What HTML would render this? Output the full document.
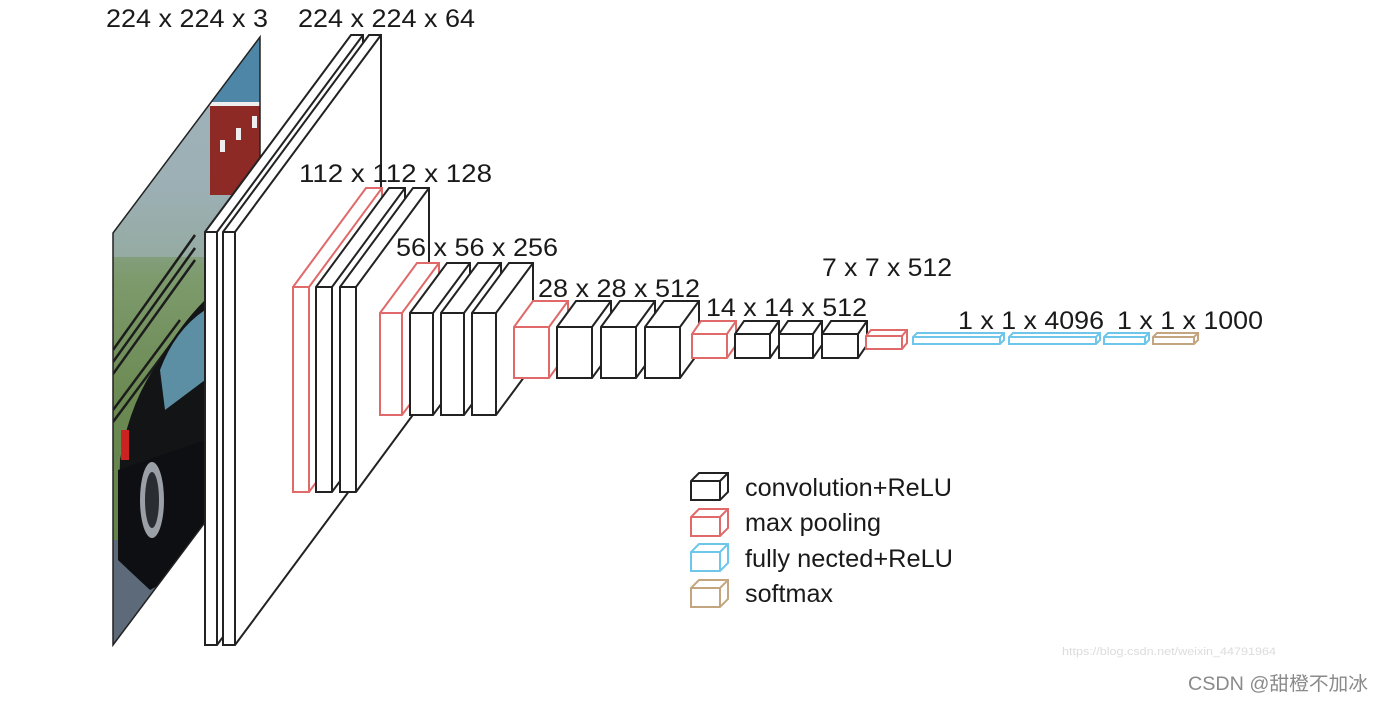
<!DOCTYPE html>
<html><head><meta charset="utf-8"><style>
html,body{margin:0;padding:0;background:#fff;}
svg{display:block;}
text{font-family:"Liberation Sans","Noto Sans CJK SC",sans-serif;fill:#1a1a1a;}
</style></head><body>
<svg width="1384" height="702" viewBox="0 0 1384 702" xmlns="http://www.w3.org/2000/svg">
<defs>
<clipPath id="img"><polygon points="113,233 260,37 260,449 113,645"/></clipPath>
<linearGradient id="sky" x1="0" y1="0" x2="0" y2="1">
<stop offset="0" stop-color="#9fb2bd"/><stop offset="0.25" stop-color="#93a9a8"/><stop offset="0.4" stop-color="#7d9a6c"/><stop offset="0.6" stop-color="#6b8a52"/><stop offset="1" stop-color="#5f7d48"/>
</linearGradient>
</defs>
<!-- image -->
<g clip-path="url(#img)">
<rect x="113" y="37" width="147" height="608" fill="url(#sky)"/>
<rect x="113" y="37" width="147" height="220" fill="#a2b4bd" opacity="0.6"/>
<rect x="210" y="37" width="50" height="70" fill="#4d86a6"/>
<rect x="210" y="105" width="50" height="90" fill="#8e2a26"/>
<rect x="210" y="102" width="50" height="4" fill="#eee"/>
<rect x="220" y="140" width="5" height="12" fill="#eee"/><rect x="236" y="128" width="5" height="12" fill="#eee"/><rect x="252" y="116" width="5" height="12" fill="#eee"/>
<g stroke="#1c1c1c" stroke-width="2.5">
<line x1="113" y1="350" x2="195" y2="235"/><line x1="113" y1="362" x2="195" y2="248"/><line x1="113" y1="374" x2="195" y2="260"/>
<line x1="113" y1="410" x2="180" y2="320"/><line x1="113" y1="422" x2="180" y2="332"/>
</g>
<path d="M120,460 Q130,400 160,360 Q180,325 205,300 L260,290 L260,560 L180,580 Q140,560 118,540 Z" fill="#121416"/>
<path d="M160,370 Q175,330 205,310 L205,380 L165,410 Z" fill="#5c8fa4"/>
<rect x="121" y="430" width="8" height="30" fill="#c22"/>
<rect x="113" y="540" width="147" height="120" fill="#5d6a7a"/>
<path d="M118,470 L205,440 L205,560 L150,590 L118,560 Z" fill="#0d0f12"/>
<ellipse cx="152" cy="500" rx="12" ry="38" fill="#9aa0a6"/>
<ellipse cx="152" cy="500" rx="7" ry="28" fill="#2a2d31"/>
</g>
<polygon points="113,233 260,37 260,449 113,645" fill="none" stroke="#222" stroke-width="1.5"/>

<g fill="#fff" stroke-width="2" stroke-linejoin="miter">
<g stroke="#222">
<path d="M205,645 L205,232 L351,35 L363,35 L363,448 L217,645 Z M205,232 L217,232 L217,645 M217,232 L363,35"/>
<path d="M223,645 L223,232 L369,35 L381,35 L381,448 L235,645 Z M223,232 L235,232 L235,645 M235,232 L381,35"/>
</g>
<path stroke="#e06a6a" d="M293,492 L293,287 L366,188 L382,188 L382,393 L309,492 Z M293,287 L309,287 L309,492 M309,287 L382,188"/>
<g stroke="#222">
<path d="M316,492 L316,287 L389,188 L405,188 L405,393 L332,492 Z M316,287 L332,287 L332,492 M332,287 L405,188"/>
<path d="M340,492 L340,287 L413,188 L429,188 L429,393 L356,492 Z M340,287 L356,287 L356,492 M356,287 L429,188"/>
</g>
<path stroke="#e06a6a" d="M380,415 L380,313 L417,263 L439,263 L439,365 L402,415 Z M380,313 L402,313 L402,415 M402,313 L439,263"/>
<g stroke="#222">
<path d="M410,415 L410,313 L447,263 L470,263 L470,365 L433,415 Z M410,313 L433,313 L433,415 M433,313 L470,263"/>
<path d="M441,415 L441,313 L478,263 L501,263 L501,365 L464,415 Z M441,313 L464,313 L464,415 M464,313 L501,263"/>
<path d="M472,415 L472,313 L509,263 L533,263 L533,365 L496,415 Z M472,313 L496,313 L496,415 M496,313 L533,263"/>
</g>
<path stroke="#e06a6a" d="M514,378 L514,327 L533,301 L568,301 L568,352 L549,378 Z M514,327 L549,327 L549,378 M549,327 L568,301"/>
<g stroke="#222">
<path d="M557,378 L557,327 L576,301 L611,301 L611,352 L592,378 Z M557,327 L592,327 L592,378 M592,327 L611,301"/>
<path d="M601,378 L601,327 L620,301 L655,301 L655,352 L636,378 Z M601,327 L636,327 L636,378 M636,327 L655,301"/>
<path d="M645,378 L645,327 L664,301 L699,301 L699,352 L680,378 Z M645,327 L680,327 L680,378 M680,327 L699,301"/>
</g>
<path stroke="#e06a6a" d="M692,358 L692,334 L701,321 L736,321 L736,345 L727,358 Z M692,334 L727,334 L727,358 M727,334 L736,321"/>
<g stroke="#222">
<path d="M735,358 L735,334 L744,321 L779,321 L779,345 L770,358 Z M735,334 L770,334 L770,358 M770,334 L779,321"/>
<path d="M779,358 L779,334 L788,321 L822,321 L822,345 L813,358 Z M779,334 L813,334 L813,358 M813,334 L822,321"/>
<path d="M822,358 L822,334 L831,321 L867,321 L867,345 L858,358 Z M822,334 L858,334 L858,358 M858,334 L867,321"/>
</g>
<path stroke="#e06a6a" d="M866,349 L866,336 L871,330 L907,330 L907,343 L902,349 Z M866,336 L902,336 L902,349 M902,336 L907,330"/>
<g stroke="#6ec6ea">
<path d="M913,344 L913,337 L917,333 L1004,333 L1004,340 L1000,344 Z M913,337 L1000,337 L1000,344 M1000,337 L1004,333"/>
<path d="M1009,344 L1009,337 L1013,333 L1100,333 L1100,340 L1096,344 Z M1009,337 L1096,337 L1096,344 M1096,337 L1100,333"/>
<path d="M1104,344 L1104,337 L1108,333 L1149,333 L1149,340 L1145,344 Z M1104,337 L1145,337 L1145,344 M1145,337 L1149,333"/>
</g>
<path stroke="#c3a67f" d="M1153,344 L1153,337 L1157,333 L1198,333 L1198,340 L1194,344 Z M1153,337 L1194,337 L1194,344 M1194,337 L1198,333"/>
<!-- legend -->
<path stroke="#222" d="M691,500 L691,481 L699,473 L728,473 L728,492 L720,500 Z M691,481 L720,481 L720,500 M720,481 L728,473"/>
<path stroke="#e06a6a" d="M691,536 L691,517 L699,509 L728,509 L728,528 L720,536 Z M691,517 L720,517 L720,536 M720,517 L728,509"/>
<path stroke="#6ec6ea" d="M691,571 L691,552 L699,544 L728,544 L728,563 L720,571 Z M691,552 L720,552 L720,571 M720,552 L728,544"/>
<path stroke="#c3a67f" d="M691,607 L691,588 L699,580 L728,580 L728,599 L720,607 Z M691,588 L720,588 L720,607 M720,588 L728,580"/>
</g>

<g font-size="25">
<text x="106" y="27" textLength="162" lengthAdjust="spacingAndGlyphs">224 x 224 x 3</text>
<text x="298" y="27" textLength="177" lengthAdjust="spacingAndGlyphs">224 x 224 x 64</text>
<text x="299" y="182" textLength="193" lengthAdjust="spacingAndGlyphs">112 x 112 x 128</text>
<text x="396" y="256" textLength="162" lengthAdjust="spacingAndGlyphs">56 x 56 x 256</text>
<text x="538" y="297" textLength="162" lengthAdjust="spacingAndGlyphs">28 x 28 x 512</text>
<text x="706" y="316" textLength="161" lengthAdjust="spacingAndGlyphs">14 x 14 x 512</text>
<text x="822" y="276" textLength="130" lengthAdjust="spacingAndGlyphs">7 x 7 x 512</text>
<text x="958" y="329" textLength="146" lengthAdjust="spacingAndGlyphs">1 x 1 x 4096</text>
<text x="1117" y="329" textLength="146" lengthAdjust="spacingAndGlyphs">1 x 1 x 1000</text>
<text x="745" y="496" textLength="207" lengthAdjust="spacingAndGlyphs">convolution+ReLU</text>
<text x="745" y="531" textLength="136" lengthAdjust="spacingAndGlyphs">max pooling</text>
<text x="745" y="567" textLength="208" lengthAdjust="spacingAndGlyphs">fully nected+ReLU</text>
<text x="745" y="602" textLength="88" lengthAdjust="spacingAndGlyphs">softmax</text>
</g>
<text x="1062" y="655" font-size="11" style="fill:#dcdcdc" textLength="214" lengthAdjust="spacingAndGlyphs">https://blog.csdn.net/weixin_44791964</text>
<text x="1188" y="690" font-size="19" style="fill:#8a8a8a" textLength="180" lengthAdjust="spacingAndGlyphs">CSDN @甜橙不加冰</text>
</svg>
</body></html>
